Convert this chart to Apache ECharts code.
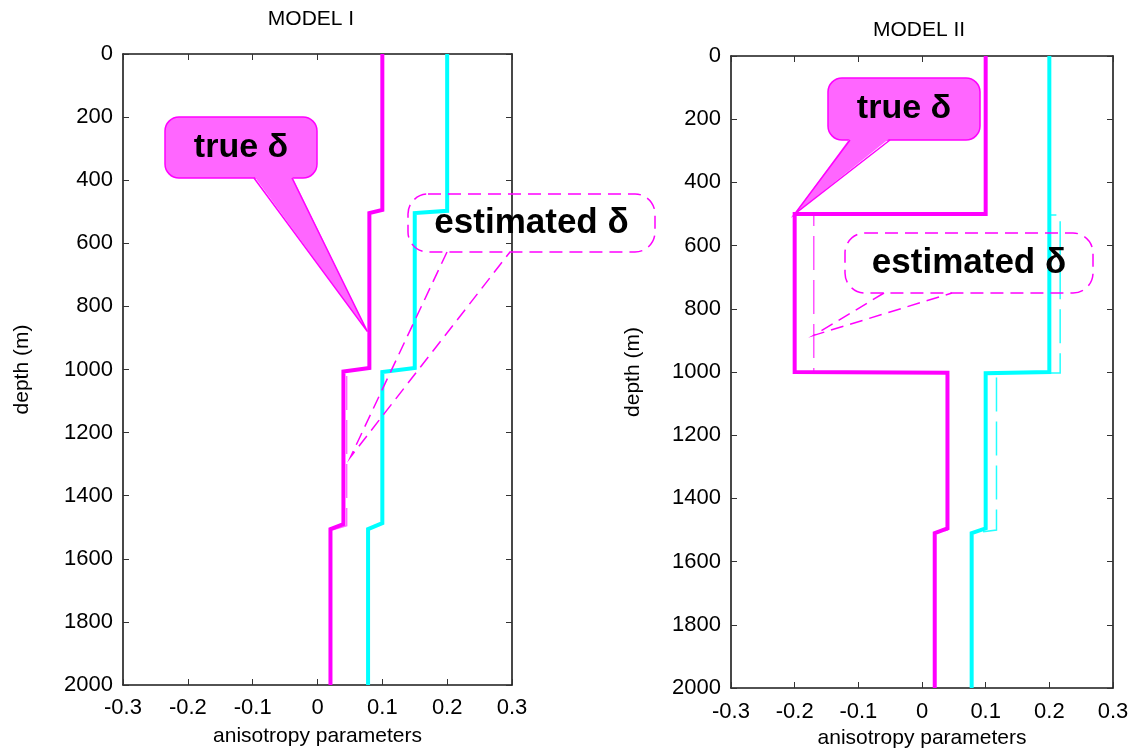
<!DOCTYPE html>
<html><head><meta charset="utf-8">
<script src="https://cdn.jsdelivr.net/npm/echarts@6/dist/echarts.min.js"></script>
<style>html,body{margin:0;padding:0;background:#fff}#c{width:1133px;height:751px}</style>
</head><body><div id="c"></div>
<script>
// ---- data ----
const panelTitles = ['MODEL I', 'MODEL II'];
const xAxisName = 'anisotropy parameters';
const yAxisName = 'depth (m)';
const xTickValues = [-0.3, -0.2, -0.1, 0, 0.1, 0.2, 0.3];
const xTickLabels = ['-0.3', '-0.2', '-0.1', '0', '0.1', '0.2', '0.3'];
const yTickLabels = ['0','200','400','600','800','1000','1200','1400','1600','1800','2000'];
const calloutTrue = 'true δ';
const calloutEst = 'estimated δ';

// Model I: [value, depth]
const m1TrueDelta = [[0.1,0],[0.1,494],[0.08,504],[0.08,995],[0.04,1006],[0.04,1490],[0.02,1506],[0.02,2000]];
const m1TrueEps   = [[0.2,0],[0.2,497],[0.15,504],[0.15,995],[0.1,1008],[0.1,1487],[0.078,1506],[0.078,2000]];
const m1EstDelta  = [[0.1,0],[0.1,495],[0.08,505],[0.08,995],[0.045,1005],[0.045,1495],[0.02,1510],[0.02,2000]];
// Model II
const m2TrueDelta = [[0.1,0],[0.1,500],[-0.2,500],[-0.2,1000],[0.04,1002],[0.04,1495],[0.02,1510],[0.02,2000]];
const m2TrueEps   = [[0.2,0],[0.2,1000],[0.1,1004],[0.1,1495],[0.078,1510],[0.078,2000]];
const m2EstDelta  = [[0.1,0],[0.1,500],[-0.17,500],[-0.17,1000],[0.04,1002],[0.04,1500],[0.02,1510],[0.02,2000]];
const m2EstEps    = [[0.2,0],[0.2,503],[0.217,503],[0.217,1003],[0.117,1003],[0.117,1500],[0.078,1510],[0.078,2000]];
// callout tips (data coords)
const m1TrueTip = [0.077, 880];
const m1EstTip  = [0.051, 1277];
const m2TrueTip = [-0.2, 500];
const m2EstTip  = [-0.17, 884];

// ---- chart ----
const FONT = 'Liberation Sans, Arial, sans-serif';
const chart = echarts.init(document.getElementById('c'), null, {renderer: 'canvas'});
const grids = [
  {left: 123, top: 54, width: 389, height: 631, containLabel: false, outerBoundsMode: 'none'},
  {left: 731, top: 56, width: 382, height: 632, containLabel: false, outerBoundsMode: 'none'}
];
function xLabel(v) {
  let best = 0;
  xTickValues.forEach((t, i) => { if (Math.abs(t - v) < Math.abs(xTickValues[best] - v)) best = i; });
  return xTickLabels[best];
}
const lineStyleAxis = {color: '#1a1a1a', width: 1.6};
const tickStyle = {show: true, inside: true, length: 6, lineStyle: {color: '#333', width: 1}};
const xAxes = [], yAxes = [];
grids.forEach((g, gi) => {
  xAxes.push({type: 'value', gridIndex: gi, min: -0.3, max: 0.3, interval: 0.1, position: 'bottom',
    axisLine: {show: true, onZero: false, lineStyle: lineStyleAxis}, axisTick: tickStyle,
    splitLine: {show: false},
    axisLabel: {formatter: xLabel, color: '#000', fontSize: 22, fontFamily: FONT, margin: gi === 0 ? 12 : 13},
    name: xAxisName, nameLocation: 'middle', nameGap: gi === 0 ? 41 : 40,
    nameTextStyle: {color: '#000', fontSize: 21, fontFamily: FONT}});
  xAxes.push({type: 'value', gridIndex: gi, min: -0.3, max: 0.3, interval: 0.1, position: 'top',
    axisLine: {show: true, onZero: false, lineStyle: lineStyleAxis}, axisTick: tickStyle,
    splitLine: {show: false}, axisLabel: {show: false}});
  yAxes.push({type: 'value', gridIndex: gi, min: 0, max: 2000, interval: 200, inverse: true, position: 'left',
    axisLine: {show: true, onZero: false, lineStyle: lineStyleAxis}, axisTick: tickStyle,
    splitLine: {show: false},
    axisLabel: {formatter: (v) => yTickLabels[Math.round(v / 200)], color: '#000', fontSize: 22, fontFamily: FONT, margin: 10},
    name: yAxisName, nameLocation: 'middle', nameGap: gi === 0 ? 90 : 87, nameRotate: 90,
    nameTextStyle: {color: '#000', fontSize: 21, fontFamily: FONT}});
  yAxes.push({type: 'value', gridIndex: gi, min: 0, max: 2000, interval: 200, inverse: true, position: 'right',
    axisLine: {show: true, onZero: false, lineStyle: lineStyleAxis}, axisTick: tickStyle,
    splitLine: {show: false}, axisLabel: {show: false}});
});
function ser(data, gi, color, width, dashed, z) {
  return {type: 'line', data: data, xAxisIndex: gi * 2, yAxisIndex: gi * 2, showSymbol: false, symbol: 'none',
    silent: true, animation: false, z: z,
    lineStyle: {color: color, width: width, type: dashed ? [34, 10] : 'solid', cap: 'butt', join: 'miter'}};
}
chart.setOption({
  backgroundColor: '#fff',
  animation: false,
  grid: grids,
  xAxis: xAxes,
  yAxis: yAxes,
  series: [
    ser(m1EstDelta, 0, '#ff66ff', 1.5, true, 2),
    ser(m1TrueDelta, 0, '#ff00ff', 4, false, 3),
    ser(m1TrueEps, 0, '#00ffff', 4, false, 3),
    ser(m2EstDelta, 1, '#ff55ff', 1.5, true, 2),
    ser(m2EstEps, 1, '#22ffff', 1.5, true, 2),
    ser(m2TrueDelta, 1, '#ff00ff', 4, false, 3),
    ser(m2TrueEps, 1, '#00ffff', 4, false, 3)
  ]
});

function px(gi, p) { return chart.convertToPixel({xAxisIndex: gi * 2, yAxisIndex: gi * 2}, p); }
function trueCallout(box, base1, base2, tip) {
  const fill = '#ff66ff', stroke = '#ff00ff';
  return [
    {type: 'rect', shape: {x: box[0], y: box[1], width: box[2], height: box[3], r: 14},
      style: {fill: fill, stroke: stroke, lineWidth: 1.5}, z: 10},
    {type: 'polygon', shape: {points: [[base1, box[1] + box[3] - 2], tip, [base2, box[1] + box[3] - 2]]},
      style: {fill: fill, stroke: null}, z: 11},
    {type: 'polyline', shape: {points: [[base1, box[1] + box[3]], tip, [base2, box[1] + box[3]]]},
      style: {stroke: stroke, lineWidth: 1.5, fill: null}, z: 11},
    {type: 'text', x: box[0] + box[2] / 2, y: box[1] + box[3] / 2, z: 12,
      style: {text: calloutTrue, fill: '#000', font: 'bold 34px ' + FONT, align: 'center', verticalAlign: 'middle'}}
  ];
}
function estCallout(box, base1, base2, tip) {
  const stroke = '#ff00ff';
  return [
    {type: 'rect', shape: {x: box[0], y: box[1], width: box[2], height: box[3], r: 20},
      style: {fill: null, stroke: stroke, lineWidth: 1.5, lineDash: [13, 7]}, z: 10},
    {type: 'polyline', shape: {points: [[base1, box[1] + box[3]], tip, [base2, box[1] + box[3]]]},
      style: {stroke: stroke, lineWidth: 1.5, fill: null, lineDash: [13, 7]}, z: 10},
    {type: 'text', x: box[0] + box[2] / 2, y: box[1] + box[3] / 2, z: 12,
      style: {text: calloutEst, fill: '#000', font: 'bold 35px ' + FONT, align: 'center', verticalAlign: 'middle'}}
  ];
}
const g = [];
g.push({type: 'text', x: 311, y: 19, style: {text: panelTitles[0], fill: '#000', font: '21px ' + FONT, align: 'center', verticalAlign: 'middle'}});
g.push({type: 'text', x: 919, y: 30, style: {text: panelTitles[1], fill: '#000', font: '21px ' + FONT, align: 'center', verticalAlign: 'middle'}});
g.push(...trueCallout([165, 117, 152, 61], 254, 292, px(0, m1TrueTip)));
g.push(...estCallout([408, 194, 247, 58], 447, 510, px(0, m1EstTip)));
g.push(...trueCallout([828, 78, 152, 62], 850, 890, px(1, m2TrueTip)));
g.push(...estCallout([845, 233, 248, 60], 884, 952, px(1, m2EstTip)));
chart.setOption({graphic: g});
</script>
</body></html>
